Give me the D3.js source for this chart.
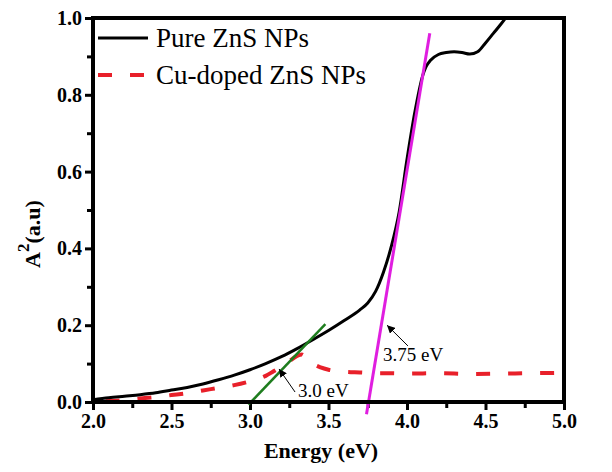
<!DOCTYPE html>
<html>
<head>
<meta charset="utf-8">
<script src="https://cdn.jsdelivr.net/npm/d3@7"></script>
<style>
  body { margin: 0; background: #fff; }
  svg { display: block; }
  .label { font-family: "Liberation Serif", "Times New Roman", serif; font-weight: bold; font-size: 22px; fill: #000; }
  .legend text, .note { font-family: "Liberation Serif", "Times New Roman", serif; fill: #000; }
</style>
</head>
<body>
<svg id="chart" width="612" height="472"></svg>
<script>
// Pure ZnS NPs (black line)
var pureX = [2.0, 2.1, 2.2, 2.3, 2.4, 2.5, 2.6, 2.7, 2.8, 2.9, 3.0, 3.1, 3.2, 3.3, 3.4, 3.5,
  3.6, 3.7, 3.75, 3.8, 3.85, 3.9, 3.95, 4.0, 4.05, 4.1, 4.12, 4.15, 4.2, 4.25, 4.3, 4.35,
  4.4, 4.45, 4.5, 4.55, 4.6, 4.65];
var pureY = [0.006, 0.011, 0.015, 0.019, 0.024, 0.031, 0.038, 0.047, 0.058, 0.070, 0.084, 0.100, 0.118, 0.139, 0.162, 0.186,
  0.212, 0.240, 0.258, 0.288, 0.338, 0.405, 0.495, 0.632, 0.755, 0.850, 0.872, 0.890, 0.905, 0.910, 0.912, 0.910,
  0.906, 0.912, 0.935, 0.960, 0.985, 1.012];

// Cu-doped ZnS NPs (red dashed line)
var cuX = [2.08, 2.2, 2.3, 2.4, 2.5, 2.6, 2.7, 2.8, 2.9, 3.0, 3.1, 3.15, 3.2, 3.25, 3.3, 3.33,
  3.36, 3.4, 3.45, 3.5, 3.6, 3.7, 3.8, 3.9, 4.0, 4.2, 4.4, 4.6, 4.8, 5.0];
var cuY = [0.002, 0.005, 0.009, 0.013, 0.018, 0.023, 0.030, 0.037, 0.044, 0.054, 0.068, 0.080, 0.092, 0.106, 0.120, 0.124,
  0.115, 0.100, 0.090, 0.084, 0.079, 0.077, 0.075, 0.075, 0.074, 0.075, 0.073, 0.074, 0.075, 0.076];

// Tangent lines for the band gap
var greenFit = [[2.99, -0.007], [3.48, 0.203]];
var magentaFit = [[3.742, -0.032], [4.145, 0.96]];

// Arrow notes: text anchor, arrow start, arrow end (data units)
var notes = [
  { text: "3.0 eV", at: [3.306, 0.013], from: [3.287, 0.026], to: [3.185, 0.086] },
  { text: "3.75 eV", at: [3.847, 0.107], from: [4.006, 0.146], to: [3.873, 0.2] }
];

var xTicks = [2.0, 2.5, 3.0, 3.5, 4.0, 4.5, 5.0];
var yTicks = [0.0, 0.2, 0.4, 0.6, 0.8, 1.0];
var xMinor = [2.25, 2.75, 3.25, 3.75, 4.25, 4.75];
var yMinor = [0.1, 0.3, 0.5, 0.7, 0.9];

var legendNames = ["Pure ZnS NPs", "Cu-doped ZnS NPs"];

var svg = d3.select("#chart");
var margin = { top: 18, right: 48, bottom: 70, left: 93 };
var width = 612 - margin.left - margin.right;
var height = 472 - margin.top - margin.bottom;

var g = svg.append("g")
  .attr("transform", "translate(" + margin.left + "," + margin.top + ")");

var x = d3.scaleLinear().domain([2.0, 5.0]).range([0, width]);
var y = d3.scaleLinear().domain([0.0, 1.0]).range([height, 0]);

g.append("clipPath")
  .attr("id", "clip")
  .append("rect")
  .attr("width", width)
  .attr("height", height);

var line = d3.line()
  .x(function(d) { return x(d[0]); })
  .y(function(d) { return y(d[1]); })
  .curve(d3.curveMonotoneX);

function styleAxis(a) {
  a.select(".domain").remove();
  a.selectAll("line").attr("stroke-width", 3);
  a.selectAll("text")
    .attr("font-family", "'Liberation Serif', 'Times New Roman', serif")
    .attr("font-weight", "bold")
    .attr("font-size", 20)
    .attr("fill", "#000");
}

// Minor ticks
g.append("g")
  .attr("transform", "translate(0," + height + ")")
  .call(d3.axisBottom(x).tickValues(xMinor).tickSize(6).tickFormat(""))
  .call(styleAxis);

g.append("g")
  .call(d3.axisLeft(y).tickValues(yMinor).tickSize(6).tickFormat(""))
  .call(styleAxis);

// Major ticks
g.append("g")
  .attr("transform", "translate(0," + height + ")")
  .call(d3.axisBottom(x).tickValues(xTicks).tickSize(8).tickPadding(4).tickFormat(d3.format(".1f")))
  .call(styleAxis);

g.append("g")
  .call(d3.axisLeft(y).tickValues(yTicks).tickSize(8).tickPadding(3).tickFormat(d3.format(".1f")))
  .call(styleAxis);

// Data curves
var plot = g.append("g").attr("clip-path", "url(#clip)");

plot.append("path")
  .datum(d3.zip(cuX, cuY))
  .attr("fill", "none")
  .attr("stroke", "#e8202a")
  .attr("stroke-width", 4)
  .attr("stroke-dasharray", "14,18")
  .attr("d", line);

plot.append("path")
  .datum(d3.zip(pureX, pureY))
  .attr("fill", "none")
  .attr("stroke", "#000")
  .attr("stroke-width", 3)
  .attr("d", line);

// Fit lines (they run past the axis)
var straight = d3.line()
  .x(function(d) { return x(d[0]); })
  .y(function(d) { return y(d[1]); });

g.append("path")
  .datum(greenFit)
  .attr("stroke", "#1e7d1e")
  .attr("stroke-width", 2.5)
  .attr("d", straight);

g.append("path")
  .datum(magentaFit)
  .attr("stroke", "#e01ee0")
  .attr("stroke-width", 3)
  .attr("d", straight);

// Frame
g.append("rect")
  .attr("width", width)
  .attr("height", height)
  .attr("fill", "none")
  .attr("stroke", "#000")
  .attr("stroke-width", 4);

// Arrow notes
svg.append("defs").append("marker")
  .attr("id", "head")
  .attr("viewBox", "0 0 10 10")
  .attr("refX", 10)
  .attr("refY", 5)
  .attr("markerWidth", 8)
  .attr("markerHeight", 8)
  .attr("markerUnits", "userSpaceOnUse")
  .attr("orient", "auto")
  .append("path")
  .attr("d", "M0,0L10,5L0,10z")
  .attr("fill", "#000");

notes.forEach(function(n) {
  g.append("line")
    .attr("x1", x(n.from[0])).attr("y1", y(n.from[1]))
    .attr("x2", x(n.to[0])).attr("y2", y(n.to[1]))
    .attr("stroke", "#000")
    .attr("stroke-width", 1)
    .attr("marker-end", "url(#head)");
  g.append("text")
    .attr("class", "note")
    .attr("x", x(n.at[0]))
    .attr("y", y(n.at[1]))
    .attr("font-size", 19)
    .text(n.text);
});

// Legend
var legend = g.append("g").attr("class", "legend");
var styles = [
  { stroke: "#000", width: 3, dash: null },
  { stroke: "#e8202a", width: 4, dash: "14,18" }
];
legendNames.forEach(function(name, i) {
  var row = legend.append("g").attr("transform", "translate(0," + (20 + i * 37) + ")");
  row.append("line")
    .attr("x1", 5).attr("x2", 55)
    .attr("stroke", styles[i].stroke)
    .attr("stroke-width", styles[i].width)
    .attr("stroke-dasharray", styles[i].dash);
  row.append("text")
    .attr("x", 63)
    .attr("y", 9)
    .attr("font-size", 27)
    .text(name);
});

// Axis titles
svg.append("text")
  .attr("class", "label")
  .attr("x", 321)
  .attr("y", 458)
  .attr("text-anchor", "middle")
  .text("Energy (eV)");

var ylab = svg.append("text")
  .attr("class", "label")
  .attr("transform", "translate(40,234) rotate(-90)")
  .attr("text-anchor", "middle");
ylab.append("tspan").text("A");
ylab.append("tspan").attr("dy", -11).attr("font-size", 17).text("2");
ylab.append("tspan").attr("dy", 11).text("(a.u)");
</script>
</body>
</html>
